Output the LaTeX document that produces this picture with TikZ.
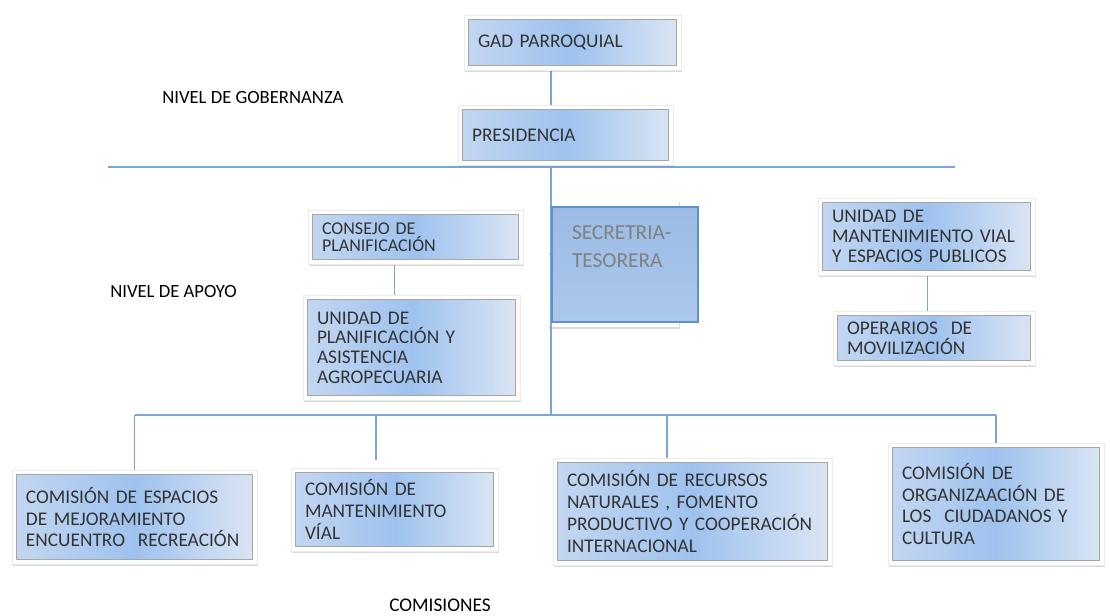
\documentclass[tikz,border=0pt]{standalone}
\usepackage{fontspec}
\setmainfont{Carlito}
\usepackage{tikz}
\usetikzlibrary{shadows,backgrounds}

\definecolor{linkblue}{HTML}{7AA6D6}
\definecolor{boxmid}{HTML}{9EC2EE}
\definecolor{boxleft}{HTML}{C4D7F1}
\definecolor{boxright}{HTML}{DCE6F4}
\definecolor{sectop}{HTML}{9BBBE4}
\definecolor{secbottom}{HTML}{ABC8EC}
\definecolor{secline}{HTML}{5D92D1}

\tikzset{
  link/.style={draw=linkblue, line width=0.8pt},
  orgbox/.style n args={3}{rectangle, fill=white, draw=black!8, line width=0.4pt,
    minimum width=#1, minimum height=#2, text width=#3,
    inner xsep=10.5pt, inner ysep=0pt, align=left, text=black!80,
    font=\fontsize{14.5}{16}\selectfont,
    drop shadow={shadow xshift=1pt, shadow yshift=-1.2pt, opacity=0.3, fill=black!50},
    path picture={
      \shadedraw[left color=boxleft, right color=boxright, middle color=boxmid,
        draw=black!35, line width=0.5pt]
        ([shift={(3.5pt,-3.5pt)}]path picture bounding box.north west) rectangle
        ([shift={(-3.5pt,3.5pt)}]path picture bounding box.south east);}},
  nivel/.style={anchor=west, inner sep=0pt, text=black, font=\fontsize{14}{16}\selectfont}
}

\begin{document}
\begin{tikzpicture}[x=0.75pt, y=-0.75pt]
        \useasboundingbox (0,0) rectangle (1110,615);
        \node[orgbox={162.75pt}{41.25pt}{141.75pt}] (gad) at (572.5,42.5) {GAD PARROQUIAL};
        \node[orgbox={161.25pt}{45pt}{140.25pt}] (pres) at (565.5,135) {PRESIDENCIA};
        \node[nivel] (gob) at (162,98) {NIVEL DE GOBERNANZA};
        \node[nivel] (apoyo) at (110,291) {NIVEL DE APOYO};
        \node[orgbox={161.25pt}{40.5pt}{140.25pt}, font=\fontsize{13.5}{12.75}\selectfont] (consejo) at (415.5,237) {CONSEJO DE\\PLANIFICACIÓN};
        \node[orgbox={162.75pt}{78.75pt}{141.75pt}, font=\fontsize{14.5}{14.8}\selectfont] (uplan) at (411.5,347.5) {UNIDAD DE\\PLANIFICACIÓN Y\\ASISTENCIA\\AGROPECUARIA};
        \node[rectangle, top color=sectop, bottom color=secbottom, draw=secline, line width=1.4pt,
              minimum width=109.5pt, text width=79.5pt, inner xsep=15pt, inner ysep=0pt,
              text height=24pt, text depth=62.25pt, align=left, text=black!50,
              font=\fontsize{16}{21}\selectfont] (sec) at (625,264.5) {SECRETRIA-\\TESORERA};
        \node[orgbox={162.75pt}{57.75pt}{141.75pt}, font=\fontsize{14.5}{15}\selectfont] (umv) at (926.5,236.5) {UNIDAD DE\\MANTENIMIENTO~VIAL\\Y~ESPACIOS~PUBLICOS};
        \node[orgbox={151.5pt}{40.5pt}{130.5pt}, font=\fontsize{14.5}{15}\selectfont] (oper) at (934,338) {OPERARIOS~~DE\\MOVILIZACIÓN};
        \node[orgbox={183.75pt}{70.5pt}{162.75pt}] (c1) at (134.5,517) {COMISIÓN~DE~ESPACIOS\\DE MEJORAMIENTO\\ENCUENTRO~~RECREACIÓN};
        \node[orgbox={155.25pt}{62.25pt}{134.25pt}, font=\fontsize{14.5}{16.5}\selectfont] (c2) at (394.5,509.5) {COMISIÓN DE\\MANTENIMIENTO\\VÍAL};
        \node[orgbox={209.25pt}{80.25pt}{188.25pt}, font=\fontsize{14.5}{16.3}\selectfont] (c3) at (692.5,511.5) {COMISIÓN~DE~RECURSOS\\NATURALES~,~FOMENTO\\PRODUCTIVO~Y~COOPERACIÓN\\INTERNACIONAL};
        \node[orgbox={162pt}{91.5pt}{141pt}, font=\fontsize{14.5}{16.3}\selectfont] (c4) at (996,504) {COMISIÓN DE\\ORGANIZAACIÓN~DE\\LOS~~CIUDADANOS~Y\\CULTURA};
        \node[nivel, anchor=center, font=\fontsize{14.5}{16}\selectfont] (comis) at (440,605) {COMISIONES};
        \coordinate (bus) at (551,415);
        \coordinate (c2top) at (376,460);
        \coordinate (c3top) at (667,458);
        \begin{pgfonlayer}{background}
        \fill[white, drop shadow={shadow xshift=1pt, shadow yshift=-1.2pt, opacity=0.3, fill=black!50}] (548,200) rectangle (679,253);
        \fill[white, drop shadow={shadow xshift=1pt, shadow yshift=-1.2pt, opacity=0.3, fill=black!50}] (548,273) rectangle (679,327);
        \draw [link] (108,167) -- (955,167);
        \draw [link] (gad.south -| bus) -- (bus);
        \draw [link] (bus -| c1.north) -- (bus -| c4.north);
        \draw [link] (bus -| c1.north) -- (c1.north);
        \draw [link] (bus -| c2top) -- (c2top);
        \draw [link] (bus -| c3top) -- (c3top);
        \draw [link] (bus -| c4.north) -- (c4.north);
        \draw [link] ([xshift=-16pt]consejo.south) -- ([xshift=-16pt]consejo.south |- uplan.north);
        \draw [link] ([xshift=1pt]umv.south) -- ([xshift=1pt]umv.south |- oper.north);
        \end{pgfonlayer}
      \end{tikzpicture}
\end{document}
